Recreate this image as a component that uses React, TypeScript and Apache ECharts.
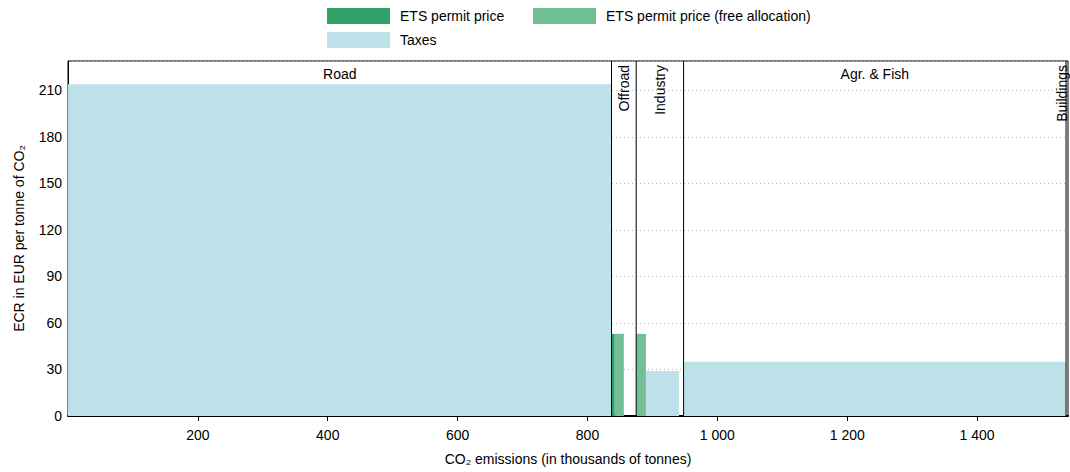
import React, { useEffect, useRef } from "react";
import * as echarts from "echarts";

// Sectors (x in thousands of tonnes of CO2)
const sectorNames = ["Road", "Offroad", "Industry", "Agr. & Fish", "Buildings"];
const sectorStart = [0, 837, 875, 948, 1537];
const sectorEnd = [837, 875, 948, 1537, 1540];

// ETS permit price blocks
const etsFrom = [837];
const etsTo = [842];
const etsRate = [53];

// ETS permit price (free allocation) blocks
const freeFrom = [842, 875];
const freeTo = [856, 890];
const freeRate = [53, 53];

// Taxes blocks
const taxFrom = [0, 890, 948];
const taxTo = [837, 941, 1537];
const taxRate = [214, 29, 35];

// Axis ticks
const xTicks = [200, 400, 600, 800, 1000, 1200, 1400];
const yTicks = [0, 30, 60, 90, 120, 150, 180, 210];

const FONT = "'Liberation Sans', Arial, Helvetica, sans-serif";
const COLORS = { ets: "#31a06b", free: "#73bf95", tax: "#bee0e8" };

const fmt = (v: number) => String(v).replace(/\B(?=(\d{3})+(?!\d))/g, " ");

function blocks(from: number[], to: number[], rate: number[]) {
  return from.map((f, i) => [f, to[i], rate[i]]);
}

function rectSeries(name: string, data: number[][], color: string) {
  return {
    name,
    type: "custom",
    itemStyle: { color },
    encode: { x: [0, 1], y: 2 },
    data,
    z: 3,
    renderItem: (params: any, api: any) => {
      const p0 = api.coord([api.value(0), api.value(2)]);
      const p1 = api.coord([api.value(1), 0]);
      return {
        type: "rect",
        shape: { x: p0[0], y: p0[1], width: p1[0] - p0[0], height: p1[1] - p0[1] },
        style: { fill: color },
      };
    },
  };
}

export default function App() {
  const ref = useRef<HTMLDivElement>(null);
  useEffect(() => {
    if (!ref.current) return;
    const chart = echarts.init(ref.current, null, { renderer: "svg" });
    const sectorData = sectorNames.map((_, i) => [sectorStart[i], sectorEnd[i], i]);
    const legendBase = {
      icon: "rect",
      itemWidth: 63,
      itemHeight: 16,
      itemGap: 0,
      padding: 0,
      textStyle: { fontSize: 14, fontFamily: FONT, color: "#000", padding: [0, 0, 0, 5] },
    };
    chart.setOption({
      animation: false,
      textStyle: { fontFamily: FONT },
      legend: [
        { ...legendBase, data: ["ETS permit price"], left: 327, top: 8 },
        { ...legendBase, data: ["ETS permit price (free allocation)"], left: 533, top: 8 },
        { ...legendBase, data: ["Taxes"], left: 327, top: 32 },
      ],
      grid: {
        left: 68,
        right: 2,
        top: 61,
        bottom: 56,
        show: true,
        borderColor: "#000",
        borderWidth: 1,
        backgroundColor: "transparent",
      },
      xAxis: {
        type: "value",
        min: 0,
        max: 1540,
        interval: 200,
        name: "CO₂ emissions (in thousands of tonnes)",
        nameLocation: "middle",
        nameGap: 36,
        nameTextStyle: { fontSize: 14, color: "#000", fontFamily: FONT },
        axisLine: { show: true, lineStyle: { color: "#000", width: 2 } },
        axisTick: { show: true, length: 5, customValues: xTicks, lineStyle: { color: "#000" } },
        axisLabel: {
          fontSize: 14,
          color: "#000",
          margin: 12,
          fontFamily: FONT,
          customValues: xTicks,
          formatter: (v: number) => fmt(v),
        },
        splitLine: { show: false },
      },
      yAxis: {
        type: "value",
        min: 0,
        max: 229,
        interval: 30,
        name: "ECR in EUR per tonne of CO₂",
        nameLocation: "middle",
        nameGap: 42,
        nameTextStyle: { fontSize: 14, color: "#000", fontFamily: FONT },
        axisLine: { show: true, lineStyle: { color: "#000", width: 1 } },
        axisTick: { show: false },
        axisLabel: {
          fontSize: 14,
          color: "#000",
          margin: 6,
          fontFamily: FONT,
          customValues: yTicks,
          formatter: (v: number) => String(v),
        },
        splitLine: { show: true, lineStyle: { color: "#b5b5b5", type: [1, 3], width: 1 } },
      },
      series: [
        rectSeries("ETS permit price", blocks(etsFrom, etsTo, etsRate), COLORS.ets),
        rectSeries("ETS permit price (free allocation)", blocks(freeFrom, freeTo, freeRate), COLORS.free),
        rectSeries("Taxes", blocks(taxFrom, taxTo, taxRate), COLORS.tax),
        {
          name: "sectors",
          type: "custom",
          data: sectorData,
          encode: { x: [0, 1] },
          z: 5,
          silent: true,
          renderItem: (params: any, api: any) => {
            const cs = params.coordSys;
            const s = api.value(0);
            const e = api.value(1);
            const idx = api.value(2);
            const xs = api.coord([s, 0])[0];
            const xe = api.coord([e, 0])[0];
            const children: any[] = [];
            if (s > 0) {
              children.push({
                type: "line",
                shape: { x1: xs, y1: cs.y, x2: xs, y2: cs.y + cs.height },
                style: { stroke: "#000", lineWidth: 1 },
              });
            }
            const w = xe - xs;
            const cx = (xs + xe) / 2;
            if (w > 80) {
              children.push({
                type: "text",
                x: cx,
                y: cs.y + 6,
                style: {
                  text: sectorNames[idx],
                  fill: "#000",
                  fontSize: 14,
                  fontFamily: FONT,
                  align: "center",
                  verticalAlign: "top",
                },
              });
            } else {
              children.push({
                type: "text",
                x: Math.min(cx, cs.x + cs.width - 6),
                y: cs.y + 4,
                rotation: Math.PI / 2,
                style: {
                  text: sectorNames[idx],
                  fill: "#000",
                  fontSize: 14,
                  fontFamily: FONT,
                  align: "right",
                  verticalAlign: "middle",
                },
              });
            }
            return { type: "group", children };
          },
        },
      ],
    });
    return () => chart.dispose();
  }, []);
  return (
    <div
      ref={ref}
      style={{ position: "absolute", left: 0, top: 0, width: 1070, height: 472 }}
    />
  );
}
